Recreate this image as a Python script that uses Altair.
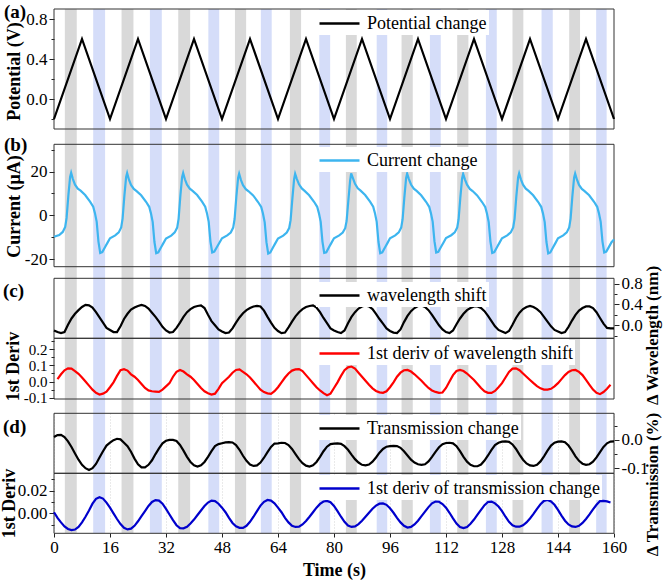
import altair as alt
import pandas as pd

# ------------------------------------------------------------------ data
gray_start = [3.1, 19.3, 35.5, 51.7, 67.4, 83.4, 99.3, 115.2, 131.0, 147.2]
gray_end = [6.5, 22.7, 38.9, 54.9, 70.6, 86.5, 102.5, 118.4, 134.1, 150.3]
blue_start = [11.2, 27.4, 44.1, 59.1, 75.8, 92.2, 107.4, 123.4, 139.3, 154.9]
blue_end = [14.6, 30.8, 47.2, 62.2, 78.9, 95.2, 110.5, 126.5, 142.5, 157.9]

pot_t = [0, 8, 16, 24, 32, 40, 48, 56, 64, 72, 80, 88, 96, 104, 112, 120, 128, 136, 144, 152, 160]
pot_v = [-0.2, 0.6, -0.2, 0.6, -0.2, 0.6, -0.2, 0.6, -0.2, 0.6, -0.2,
         0.6, -0.2, 0.6, -0.2, 0.6, -0.2, 0.6, -0.2, 0.6, -0.2]

cur_offsets = [0, 1.5, 2.5, 3.2, 3.6, 4.1, 4.6, 4.9, 5.4, 6.0, 6.8, 7.6, 8.9,
               10.3, 11.2, 11.7, 12.2, 12.7, 13.2, 13.8, 14.6, 15.3]
cur_cycles = [
    [-9.8, -9.0, -7.6, -5.3, -1.2, 9.0, 17.6, 19.5, 16.6, 14.0, 12.2, 11.3, 9.3, 6.3, 4.0, 1.0, -3.0, -12.0, -17.2, -16.8, -14.5, -12.5],
    [-10.5, -9.2, -7.8, -5.5, -1.5, 8.8, 17.4, 19.3, 16.4, 13.9, 12.1, 11.1, 9.2, 6.2, 3.9, 0.9, -3.1, -12.2, -17.3, -16.9, -14.6, -12.6],
    [-10.6, -9.3, -7.8, -5.6, -1.6, 8.9, 17.5, 19.4, 16.5, 14.0, 12.2, 11.2, 9.3, 6.3, 4.0, 1.0, -3.0, -12.0, -17.0, -16.6, -14.4, -12.4],
    [-10.5, -9.2, -7.9, -5.6, -1.7, 8.5, 17.1, 19.0, 16.2, 13.8, 12.0, 11.0, 9.1, 6.1, 3.8, 0.8, -3.2, -12.3, -17.5, -17.0, -14.6, -12.6],
    [-10.6, -9.3, -7.9, -5.8, -2.2, 7.5, 16.5, 19.0, 16.6, 14.2, 12.3, 11.2, 9.2, 6.2, 3.9, 0.9, -3.0, -12.0, -17.2, -16.9, -14.5, -12.5],
    [-10.5, -9.2, -7.9, -5.9, -2.6, 6.8, 15.8, 19.2, 17.0, 14.4, 12.4, 11.3, 9.3, 6.3, 4.0, 1.0, -3.0, -12.1, -17.3, -16.9, -14.6, -12.6],
    [-10.5, -9.2, -7.8, -5.6, -1.8, 8.2, 17.0, 19.1, 16.6, 14.1, 12.2, 11.2, 9.2, 6.2, 3.9, 0.9, -3.0, -11.8, -17.0, -16.7, -14.4, -12.4],
    [-10.4, -9.1, -7.8, -5.6, -1.8, 8.2, 16.9, 19.0, 16.5, 14.0, 12.1, 11.1, 9.1, 6.1, 3.8, 0.8, -3.1, -12.0, -17.2, -16.8, -14.5, -12.5],
    [-10.5, -9.2, -7.8, -5.5, -1.5, 8.8, 17.3, 19.2, 16.5, 14.0, 12.2, 11.2, 9.2, 6.2, 3.9, 0.9, -3.1, -12.2, -17.4, -17.0, -14.6, -12.6],
    [-10.5, -9.2, -7.8, -5.5, -1.5, 8.7, 17.2, 19.1, 16.4, 13.9, 12.1, 11.1, 9.2, 6.2, 3.9, 0.9, -3.0, -11.9, -17.0, -16.6, -14.3, -12.3],
]
cur_last_t = 160
cur_last_v = -11.0

wl_cycles = [
    [-0.10, -0.13, -0.15, -0.13, 0.01, 0.13, 0.22, 0.29, 0.35, 0.39, 0.38, 0.34, 0.25, 0.15, 0.05, -0.05],
    [-0.09, -0.13, -0.13, -0.02, 0.12, 0.22, 0.30, 0.34, 0.37, 0.39, 0.37, 0.32, 0.24, 0.16, 0.07, -0.03],
    [-0.10, -0.14, -0.13, -0.05, 0.05, 0.16, 0.25, 0.31, 0.35, 0.37, 0.38, 0.33, 0.20, 0.08, 0.00, -0.08],
    [-0.12, -0.15, -0.14, -0.06, 0.05, 0.15, 0.23, 0.29, 0.33, 0.36, 0.37, 0.36, 0.28, 0.16, 0.05, -0.05],
    [-0.11, -0.15, -0.14, -0.04, 0.07, 0.17, 0.25, 0.31, 0.35, 0.37, 0.38, 0.34, 0.25, 0.14, 0.04, -0.06],
    [-0.10, -0.13, -0.15, -0.10, 0.04, 0.16, 0.25, 0.32, 0.36, 0.38, 0.36, 0.31, 0.22, 0.12, 0.03, -0.06],
    [-0.11, -0.14, -0.15, -0.08, 0.06, 0.18, 0.27, 0.33, 0.37, 0.38, 0.35, 0.29, 0.20, 0.10, 0.00, -0.08],
    [-0.13, -0.15, -0.10, 0.02, 0.13, 0.22, 0.29, 0.33, 0.36, 0.36, 0.33, 0.27, 0.18, 0.08, -0.02, -0.09],
    [-0.12, -0.15, -0.11, 0.01, 0.14, 0.24, 0.31, 0.35, 0.37, 0.35, 0.31, 0.25, 0.16, 0.07, -0.02, -0.09],
    [-0.12, -0.15, -0.13, -0.03, 0.09, 0.20, 0.28, 0.33, 0.36, 0.36, 0.33, 0.25, 0.14, 0.03, -0.05, -0.06],
]
wl_last = -0.06

wd_cycles = [
    [None, 0.015, 0.045, 0.070, 0.082, 0.080, 0.065, 0.048, 0.025, 0.000, -0.025, -0.050, -0.070, -0.080, -0.075, -0.062],
    [-0.035, -0.005, 0.035, 0.070, 0.077, 0.068, 0.045, 0.030, 0.010, -0.015, -0.040, -0.055, -0.060, -0.062, -0.064, -0.050],
    [-0.030, -0.010, 0.030, 0.060, 0.072, 0.062, 0.045, 0.030, 0.010, -0.015, -0.040, -0.060, -0.072, -0.080, -0.075, -0.045],
    [-0.010, 0.010, 0.030, 0.055, 0.072, 0.075, 0.060, 0.045, 0.025, 0.000, -0.025, -0.050, -0.065, -0.073, -0.076, -0.060],
    [-0.035, -0.005, 0.025, 0.050, 0.068, 0.075, 0.077, 0.065, 0.040, 0.015, -0.010, -0.035, -0.055, -0.072, -0.085, -0.075],
    [-0.040, -0.005, 0.035, 0.070, 0.088, 0.093, 0.080, 0.055, 0.030, 0.005, -0.020, -0.042, -0.058, -0.067, -0.070, -0.060],
    [-0.035, -0.005, 0.030, 0.055, 0.070, 0.072, 0.062, 0.045, 0.025, 0.005, -0.018, -0.040, -0.055, -0.064, -0.070, -0.068],
    [-0.040, 0.000, 0.040, 0.065, 0.072, 0.065, 0.050, 0.030, 0.010, -0.015, -0.040, -0.060, -0.070, -0.070, -0.058, -0.035],
    [-0.010, 0.025, 0.060, 0.080, 0.082, 0.070, 0.050, 0.030, 0.010, -0.010, -0.028, -0.042, -0.050, -0.050, -0.045, -0.030],
    [-0.010, 0.015, 0.040, 0.060, 0.070, 0.072, 0.060, 0.040, 0.010, -0.020, -0.050, -0.070, -0.078, -0.065, -0.045, -0.020],
]
wd_last = None

tr_cycles = [
    [0.010, 0.017, 0.018, 0.010, -0.005, -0.025, -0.048, -0.070, -0.088, -0.100, -0.106, -0.100, -0.085, -0.062, -0.040, -0.020],
    [-0.010, -0.001, 0.004, 0.002, -0.010, -0.022, -0.042, -0.066, -0.086, -0.097, -0.097, -0.088, -0.072, -0.050, -0.030, -0.012],
    [-0.003, 0.000, 0.000, -0.004, -0.018, -0.038, -0.060, -0.078, -0.090, -0.094, -0.090, -0.078, -0.060, -0.040, -0.022, -0.015],
    [-0.012, -0.009, -0.008, -0.009, -0.018, -0.035, -0.056, -0.074, -0.087, -0.092, -0.090, -0.080, -0.063, -0.043, -0.025, -0.013],
    [-0.012, -0.010, -0.011, -0.018, -0.032, -0.050, -0.068, -0.082, -0.091, -0.094, -0.090, -0.078, -0.060, -0.040, -0.024, -0.015],
    [-0.013, -0.012, -0.014, -0.022, -0.035, -0.052, -0.068, -0.080, -0.088, -0.090, -0.087, -0.077, -0.062, -0.045, -0.032, -0.024],
    [-0.022, -0.021, -0.022, -0.028, -0.040, -0.055, -0.070, -0.080, -0.086, -0.088, -0.086, -0.076, -0.060, -0.042, -0.026, -0.015],
    [-0.011, -0.010, -0.012, -0.022, -0.040, -0.060, -0.077, -0.088, -0.093, -0.093, -0.087, -0.073, -0.055, -0.035, -0.018, -0.010],
    [-0.006, -0.005, -0.007, -0.016, -0.032, -0.052, -0.070, -0.083, -0.090, -0.092, -0.088, -0.076, -0.058, -0.038, -0.020, -0.010],
    [-0.006, -0.005, -0.008, -0.020, -0.038, -0.058, -0.074, -0.084, -0.088, -0.086, -0.077, -0.062, -0.043, -0.025, -0.012, -0.006],
]
tr_last = -0.005

td_cycles = [
    [0.001, -0.004, -0.008, -0.0115, -0.0138, -0.0148, -0.0143, -0.012, -0.008, -0.003, 0.0025, 0.0085, 0.0128, 0.0142, 0.013, 0.0095],
    [0.005, 0.000, -0.005, -0.0095, -0.0128, -0.0142, -0.0135, -0.011, -0.007, -0.0025, 0.002, 0.0065, 0.0100, 0.0117, 0.0112, 0.0085],
    [0.004, -0.001, -0.006, -0.0105, -0.0130, -0.0132, -0.0118, -0.009, -0.0055, -0.0015, 0.0025, 0.0065, 0.0095, 0.0112, 0.0108, 0.0085],
    [0.005, 0.001, -0.004, -0.0085, -0.0115, -0.0128, -0.0128, -0.011, -0.0075, -0.003, 0.002, 0.0068, 0.0102, 0.0118, 0.0112, 0.0088],
    [0.005, 0.001, -0.004, -0.008, -0.011, -0.012, -0.0118, -0.0098, -0.0068, -0.003, 0.001, 0.005, 0.0083, 0.0104, 0.011, 0.0098],
    [0.0065, 0.002, -0.003, -0.0075, -0.0108, -0.012, -0.0115, -0.0095, -0.0065, -0.003, 0.0005, 0.004, 0.0068, 0.0085, 0.0087, 0.0075],
    [0.0045, 0.0005, -0.004, -0.008, -0.011, -0.0125, -0.012, -0.0098, -0.0065, -0.0025, 0.0015, 0.0055, 0.0088, 0.0104, 0.0102, 0.0082],
    [0.005, 0.0005, -0.0045, -0.009, -0.012, -0.013, -0.012, -0.0092, -0.0055, -0.0012, 0.003, 0.0072, 0.0100, 0.0104, 0.0088, 0.006],
    [0.002, -0.003, -0.0075, -0.0105, -0.0118, -0.0118, -0.0105, -0.008, -0.0045, -0.0005, 0.004, 0.008, 0.011, 0.0118, 0.0105, 0.0075],
    [0.003, -0.002, -0.0065, -0.0098, -0.0115, -0.012, -0.011, -0.0085, -0.005, -0.001, 0.0035, 0.0075, 0.0108, 0.011, 0.0105, 0.0095],
]
td_last = None

x_ticks = [0, 16, 32, 48, 64, 80, 96, 112, 128, 144, 160]

# ------------------------------------------------------------------ tables
def cycle_table(rows, last):
    ts, vs = [], []
    for k, row in enumerate(rows):
        for i, v in enumerate(row):
            ts.append(16 * k + i)
            vs.append(v)
    ts.append(160)
    vs.append(last)
    return pd.DataFrame({"t": ts, "v": vs})


bars_df = pd.DataFrame({
    "start": gray_start + blue_start,
    "end": gray_end + blue_end,
    "kind": ["gray"] * len(gray_start) + ["blue"] * len(blue_start),
})
pot_df = pd.DataFrame({"t": pot_t, "v": pot_v})
cur_t, cur_v = [], []
for k, row in enumerate(cur_cycles):
    for off, v in zip(cur_offsets, row):
        cur_t.append(16 * k + off)
        cur_v.append(v)
cur_t.append(cur_last_t)
cur_v.append(cur_last_v)
cur_df = pd.DataFrame({"t": cur_t, "v": cur_v})
wl_df = cycle_table(wl_cycles, wl_last)
wd_df = cycle_table(wd_cycles, wd_last).dropna()
tr_df = cycle_table(tr_cycles, tr_last)
td_df = cycle_table(td_cycles, td_last).dropna()

# ------------------------------------------------------------------ chart
W, H = 560, 524
FONT = "Liberation Serif"
xscale = alt.Scale(domain=[0, 160], nice=False, zero=False)
x_axis = alt.Axis(values=x_ticks, format="d", title="Time (s)", orient="bottom",
                  tickSize=4, labelPadding=2, labelFlush=False,
                  titleBaseline="middle", titleY=37,
                  grid=True, gridColor="#8a8a8a", gridDash=[1, 2], gridWidth=0.6,
                  gridOpacity=0.6)
one = pd.DataFrame({"k": [0]})
MINUS = "replace(datum.label, '\u2212', '-')"

bars = alt.Chart(bars_df).mark_rect().encode(
    x=alt.X("start:Q", scale=xscale, axis=x_axis),
    x2="end:Q",
    y=alt.value(0),
    y2=alt.value(H),
    color=alt.Color("kind:N", scale=alt.Scale(domain=["gray", "blue"],
                                             range=["#d9d9d9", "#d5ddf9"]), legend=None),
)


def lines(df, label, color, lo, hi, rng, axis, legend_y, width=2.2):
    yscale = alt.Scale(domain=[lo, hi], range=rng, nice=False, zero=False)
    return alt.Chart(df).mark_line(strokeWidth=width).encode(
        x=alt.X("t:Q", scale=xscale, axis=x_axis),
        y=alt.Y("v:Q", scale=yscale, axis=axis),
        color=alt.Color("s:N", scale=alt.Scale(domain=[label], range=[color]),
                        legend=alt.Legend(orient="none", legendX=262, legendY=legend_y,
                                          title=None)),
    ).transform_calculate(s=f"'{label}'")


def frame(lo, hi, rng):
    yscale = alt.Scale(domain=[lo, hi], range=rng, nice=False, zero=False)
    return alt.Chart(one).mark_rect(filled=False, stroke="#333333", strokeWidth=1).encode(
        x=alt.value(0), x2=alt.value(W),
        y=alt.YDatum(lo, axis=None, scale=yscale), y2=alt.Y2Datum(hi),
    )


def minor(df, lo, hi, rng, values, orient):
    return alt.Chart(df).mark_line(strokeOpacity=0).encode(
        x=alt.X("t:Q", scale=xscale, axis=x_axis),
        y=alt.Y("v:Q", scale=alt.Scale(domain=[lo, hi], range=rng, nice=False, zero=False),
                axis=alt.Axis(values=values, labels=False, tickSize=3, title=None,
                              orient=orient, grid=False, domain=False)),
    )


def yaxis(values, fmt, title, orient, tx, ty, tsize=18, lsize=17):
    return alt.Axis(values=values, format=fmt, labelExpr=MINUS, title=title, orient=orient,
                    titleX=tx, titleY=ty, titleAlign="center", titleBaseline="middle",
                    titleAngle=270, titleFontSize=tsize, tickSize=5, labelPadding=2,
                    labelFontSize=lsize, labelOverlap=False)


rA, rB = [120, 0], [257.7, 135.3]
rC1, rC2 = [329.3, 269.3], [390, 329.3]
rD1, rD2 = [464.3, 404.3], [524.3, 464.3]
dA, dB = (-0.3, 0.9), (-23.5, 32.5)
dC1, dC2 = (-0.25, 0.9), (-0.108, 0.268)
dD1, dD2 = (-0.118, 0.094), (-0.0176, 0.0353)

lA = lines(pot_df, "Potential change", "#000000", *dA, rA,
           yaxis([0.0, 0.4, 0.8], ".1f", "Potential (V)", "left", -40, 62), 1)
lB = lines(cur_df, "Current change", "#3db5ef", *dB, rB,
           yaxis([-20, 0, 20], "d", "Current (μA)", "left", -40, 197), 138)
lC1 = lines(wl_df, "wavelength shift", "#000000", *dC1, rC1,
            yaxis([0.0, 0.4, 0.8], ".1f", "Δ Wavelength (nm)", "right", 38, 326, 17), 273)
lC2 = lines(wd_df, "1st deriv of wavelength shift", "#ff0000", *dC2, rC2,
            yaxis([-0.1, 0.0, 0.1, 0.2], ".1f", "1st Deriv", "left", -41, 357, 18, 15), 331)
lD1 = lines(tr_df, "Transmission change", "#000000", *dD1, rD1,
            yaxis([-0.1, 0.0], ".1f", "Δ Transmission (%)", "right", 38, 475, 17), 406)
lD2 = lines(td_df, "1st deriv of transmission change", "#0000cc", *dD2, rD2,
            yaxis([0.0, 0.02], ".2f", "1st Deriv", "left", -45, 494), 466)

frames = [frame(*d, r) for d, r in [(dA, rA), (dB, rB), (dC1, rC1), (dC2, rC2),
                                    (dD1, rD1), (dD2, rD2)]]

minors = [
    minor(pot_df, *dA, rA, [-0.2, 0.2, 0.6], "left"),
    minor(cur_df, *dB, rB, [-10, 10, 30], "left"),
    minor(wl_df, *dC1, rC1, [-0.2, 0.2, 0.6], "right"),
    minor(wd_df, *dC2, rC2, [-0.05, 0.05, 0.15, 0.25], "left"),
    minor(tr_df, *dD1, rD1, [-0.05, 0.05], "right"),
    minor(td_df, *dD2, rD2, [-0.01, 0.01, 0.03], "left"),
]

panel_labels = ["(a)", "(b)", "(c)", "(d)"]
label_pos = [(-50, 3), (-50, 136), (-51, 282), (-51, 418)]
texts = [
    alt.Chart(one).mark_text(text=lab, font=FONT, fontSize=19, fontWeight="bold",
                             align="left", baseline="middle", color="black")
    .encode(x=alt.value(px), y=alt.value(py))
    for lab, (px, py) in zip(panel_labels, label_pos)
]

chart = alt.layer(
    bars, *frames, lA, lB, lC1, lC2, lD1, lD2, *minors, *texts
).resolve_scale(
    y="independent", color="independent"
).resolve_axis(
    y="independent"
).resolve_legend(
    color="independent"
).properties(
    width=W, height=H,
    padding={"left": 54, "top": 9, "right": 49, "bottom": 51},
    autosize=alt.AutoSizeParams(type="none"),
).configure_view(
    stroke=None
).configure_axis(
    labelFont=FONT, titleFont=FONT, labelFontSize=17, titleFontSize=18,
    titleFontWeight="bold", labelColor="black", titleColor="black",
    tickColor="#222222", domain=False, grid=False,
).configure_legend(
    labelFont=FONT, labelFontSize=18, labelColor="black", symbolType="M-1,0H3",
    symbolSize=400, symbolStrokeWidth=2.5, fillColor="white", padding=2,
    labelOffset=26, labelLimit=400,
)

chart.save("out.html", embed_options={"renderer": "svg", "actions": False})
